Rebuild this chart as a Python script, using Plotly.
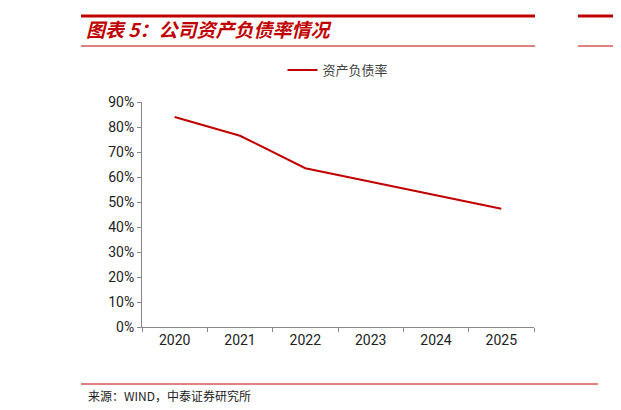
import plotly.graph_objects as go

years = ["2020", "2021", "2022", "2023", "2024", "2025"]
ratio = [84.0, 76.5, 63.5, 58.0, 52.5, 47.3]
yticks = [0, 10, 20, 30, 40, 50, 60, 70, 80, 90]
ytick_text = [f"{v}%" for v in yticks]

W, H = 621, 410
L, R, T, B = 134, 95, 94, 91
pw, ph = W - L - R, H - T - B
def px(x): return (x - L) / pw
def py(y): return (H - B - y) / ph

red = "#C00000"
fig = go.Figure(go.Scatter(x=years, y=ratio, mode="lines", name="资产负债率",
                           line=dict(color=red, width=2)))
fnt = "Noto Sans CJK SC"
fig.update_layout(
    width=W, height=H, margin=dict(l=L, r=R, t=T, b=B),
    plot_bgcolor="white", paper_bgcolor="white",
    font=dict(family=fnt, size=13, color="#222"),
    showlegend=True,
    legend=dict(orientation="h", x=0.5, xanchor="center", y=py(62), yanchor="middle",
                font=dict(size=13, color="#444")),
    xaxis=dict(range=[-0.5, 5.5], showline=True, linecolor="#888", ticks="outside",
               tickson="boundaries", tickcolor="#888", ticklen=4,
               showgrid=False, tickfont=dict(size=14, family="Roboto")),
    yaxis=dict(range=[0, 90], tickvals=yticks, ticktext=ytick_text, showline=True,
               linecolor="#888", ticks="outside", tickcolor="#888", ticklen=4, showgrid=False,
               tickfont=dict(size=14, family="Roboto")),
    shapes=[
        dict(type="line", xref="paper", yref="paper", x0=px(73), x1=px(527), y0=py(8), y1=py(8), line=dict(color=red, width=3)),
        dict(type="line", xref="paper", yref="paper", x0=px(73), x1=px(527), y0=py(38), y1=py(38), line=dict(color=red, width=1)),
        dict(type="line", xref="paper", yref="paper", x0=px(570), x1=px(621), y0=py(8), y1=py(8), line=dict(color=red, width=3)),
        dict(type="line", xref="paper", yref="paper", x0=px(570), x1=px(621), y0=py(38), y1=py(38), line=dict(color=red, width=1)),
        dict(type="line", xref="paper", yref="paper", x0=px(73), x1=px(590), y0=py(376), y1=py(376), line=dict(color=red, width=1)),
    ],
    annotations=[
        dict(text="<b><i>图表 5：公司资产负债率情况</i></b>", xref="paper", yref="paper",
             x=px(76), y=py(21), xanchor="left", yanchor="middle", showarrow=False,
             font=dict(size=19, color=red, family=fnt)),
        dict(text="来源：WIND，中泰证券研究所", xref="paper", yref="paper",
             x=px(78), y=py(387), xanchor="left", yanchor="middle", showarrow=False,
             font=dict(size=12, color="#222", family=fnt)),
    ],
)
fig.write_html("out.html")
